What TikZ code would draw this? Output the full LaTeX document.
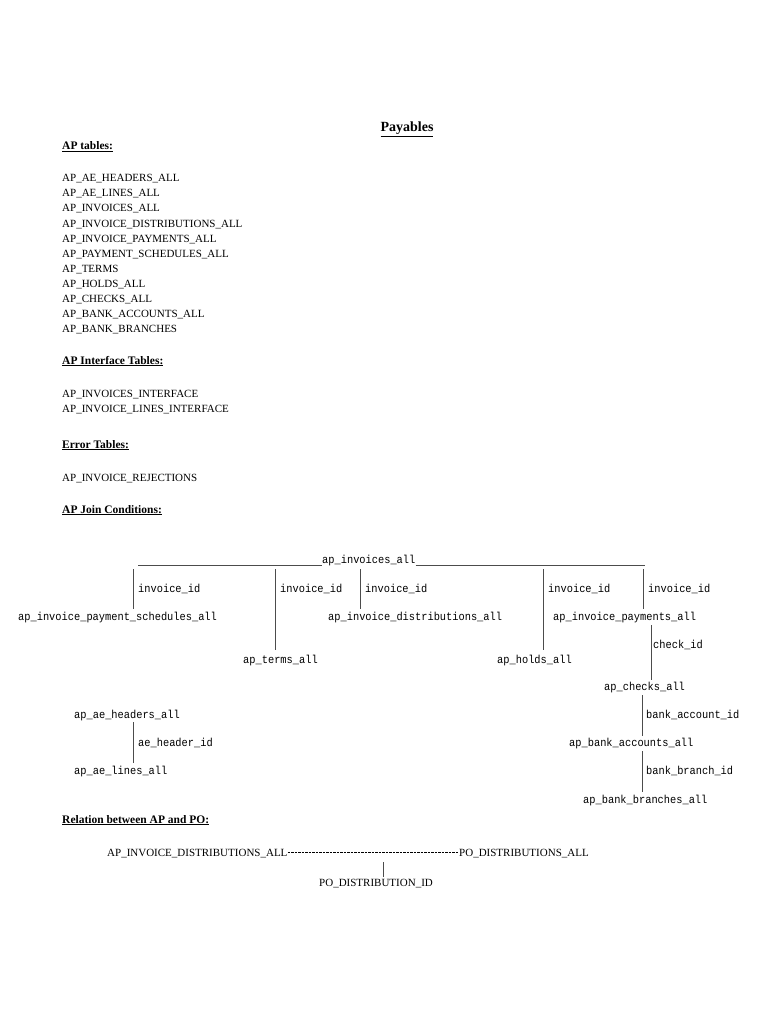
\documentclass[tikz,border=0pt]{standalone}
\usepackage{fontspec}
\setmainfont{Liberation Serif}
\newfontfamily\monof[FakeStretch=0.9]{Liberation Mono}
\begin{document}
\begin{tikzpicture}[x=1pt,y=-1pt,
  txt/.style={anchor=base west,inner sep=0pt,font=\fontsize{11}{13}\selectfont},
  head/.style={anchor=base west,inner sep=0pt,font=\fontsize{11.5}{13}\selectfont\bfseries},
  mono/.style={anchor=base west,inner sep=0pt,font=\monof\fontsize{11.5}{13}\selectfont},
  link/.style={draw=black!70,line width=0.6pt}]
\useasboundingbox (0,0) rectangle (768,1024);
\node[anchor=base,inner sep=0pt,font=\fontsize{14}{16}\selectfont\bfseries] (title) at (407,132) {\underline{Payables}};
\node[head] (h1) at (62,150) {\underline{AP tables:}};
\foreach \t [count=\i from 0] in {AP\_AE\_HEADERS\_ALL,AP\_AE\_LINES\_ALL,AP\_INVOICES\_ALL,AP\_INVOICE\_DISTRIBUTIONS\_ALL,AP\_INVOICE\_PAYMENTS\_ALL,AP\_PAYMENT\_SCHEDULES\_ALL,AP\_TERMS,AP\_HOLDS\_ALL,AP\_CHECKS\_ALL,AP\_BANK\_ACCOUNTS\_ALL,AP\_BANK\_BRANCHES}
  \node[txt] (t\i) at (62,182+15*\i) {\t};
\node[head] (h2) at (62,364) {\underline{AP Interface Tables:}};
\node[txt] (i1) at (62,397) {AP\_INVOICES\_INTERFACE};
\node[txt] (i2) at (62,412) {AP\_INVOICE\_LINES\_INTERFACE};
\node[head] (h3) at (62,448) {\underline{Error Tables:}};
\node[txt] (e1) at (62,481) {AP\_INVOICE\_REJECTIONS};
\node[head] (h4) at (62,513) {\underline{AP Join Conditions:}};
% join diagram
\node[mono] (inv) at (322,563) {ap\_invoices\_all};
\coordinate (L) at (138,565);
\coordinate (R) at (645,565);
\draw[link] (L) -- (inv.base west |- L);
\draw[link] (inv.base east |- R) -- (R);
\node[mono] (pays) at (18,620) {ap\_invoice\_payment\_schedules\_all};
\node[mono] (terms) at (243,663) {ap\_terms\_all};
\node[mono] (dist) at (328,620) {ap\_invoice\_distributions\_all};
\node[mono] (holds) at (497,663) {ap\_holds\_all};
\node[mono] (pay) at (553,620) {ap\_invoice\_payments\_all};
\node[mono] (chk) at (604,690) {ap\_checks\_all};
\node[mono] (bacc) at (569,746) {ap\_bank\_accounts\_all};
\node[mono] (bbr) at (583,803) {ap\_bank\_branches\_all};
\node[mono] (aeh) at (74,718) {ap\_ae\_headers\_all};
\node[mono] (ael) at (74,774) {ap\_ae\_lines\_all};
\foreach \x/\b/\n in {133/609/a,275/650/b,360/609/c,543/650/d,643/609/e}{
  \draw[link] (\x,569) -- (\x,\b);
  \node[mono] (lab\n) at (\x+5,592) {invoice\_id};
}
\draw[link] (651,625) -- (651,680);
\node[mono] (lchk) at (653,648) {check\_id};
\draw[link] (642,695) -- (642,736);
\node[mono] (lba) at (646,718) {bank\_account\_id};
\draw[link] (642,751) -- (642,792);
\node[mono] (lbb) at (646,774) {bank\_branch\_id};
\draw[link] (133,722) -- (133,763);
\node[mono] (lae) at (138,746) {ae\_header\_id};
% relation
\node[head] (h5) at (62,823) {\underline{Relation between AP and PO:}};
\node[txt] (apd) at (107,856) {AP\_INVOICE\_DISTRIBUTIONS\_ALL};
\node[txt] (pod) at (459,856) {PO\_DISTRIBUTIONS\_ALL};
\draw[line width=0.5pt,dash pattern=on 2.5pt off 1pt] (apd.base east)++(0,-3.5) -- ([yshift=3.5pt]pod.base west);
\node[txt] (pid) at (319,886) {PO\_DISTRIBUTION\_ID};
\draw[link] (383,862) -- (383,877);
\end{tikzpicture}
\end{document}
